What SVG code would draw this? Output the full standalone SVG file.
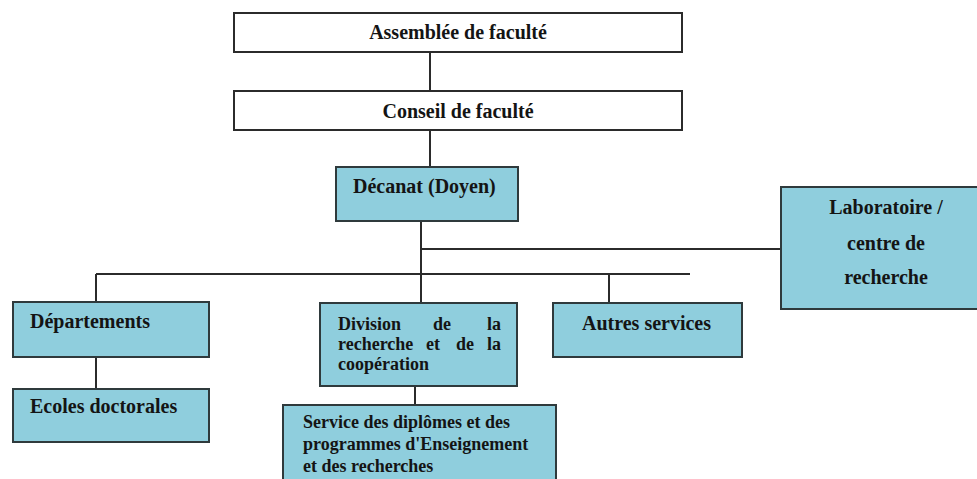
<svg xmlns="http://www.w3.org/2000/svg" width="977" height="479" viewBox="0 0 977 479">
<style>
.w{fill:#ffffff;stroke:#2b2b2b;stroke-width:2}
.b{fill:#8fcedd;stroke:#2f3a3c;stroke-width:2}
.t{font-family:"Liberation Serif","Times New Roman",serif;font-weight:bold;font-size:20px;fill:#141414}
.s{font-size:18px}
.c{stroke:#2b2b2b;stroke-width:2;fill:none}
</style>
<rect width="977" height="479" fill="#ffffff"/>
<g id="connectors">
<line class="c" x1="430" y1="52" x2="430" y2="91"/>
<line class="c" x1="430" y1="130" x2="430" y2="167"/>
<line class="c" x1="421" y1="221" x2="421" y2="303"/>
<line class="c" x1="421" y1="249" x2="781" y2="249"/>
<line class="c" x1="96" y1="274" x2="690" y2="274"/>
<line class="c" x1="96" y1="274" x2="96" y2="302"/>
<line class="c" x1="609" y1="274" x2="609" y2="303"/>
<line class="c" x1="96" y1="357" x2="96" y2="389"/>
<line class="c" x1="415" y1="386" x2="415" y2="405"/>
</g>
<g id="assemblee">
<rect class="w" x="234" y="13" width="448" height="39"/>
<text class="t" x="458" y="39" text-anchor="middle">Assemblée de faculté</text>
</g>
<g id="conseil">
<rect class="w" x="234" y="91" width="448" height="39"/>
<text class="t" x="458" y="118" text-anchor="middle">Conseil de faculté</text>
</g>
<g id="decanat">
<rect class="b" x="336" y="167" width="182" height="54"/>
<text class="t" x="353" y="193">Décanat (Doyen)</text>
</g>
<g id="laboratoire">
<rect class="b" x="781" y="187" width="215" height="122"/>
<text class="t" x="886" y="214" text-anchor="middle">Laboratoire /</text>
<text class="t" x="886" y="250" text-anchor="middle">centre de</text>
<text class="t" x="886" y="284" text-anchor="middle">recherche</text>
</g>
<g id="departements">
<rect class="b" x="13" y="302" width="196" height="55"/>
<text class="t" x="30" y="328">Départements</text>
</g>
<g id="ecoles">
<rect class="b" x="13" y="389" width="196" height="53"/>
<text class="t" x="30" y="413">Ecoles doctorales</text>
</g>
<g id="division">
<rect class="b" x="320" y="303" width="197" height="83"/>
<text class="t s" y="330"><tspan x="338">Division</tspan><tspan x="433">de</tspan><tspan x="487">la</tspan></text>
<text class="t s" y="350"><tspan x="338">recherche</tspan><tspan x="426">et</tspan><tspan x="456">de</tspan><tspan x="487">la</tspan></text>
<text class="t s" x="338" y="370">coopération</text>
</g>
<g id="autres">
<rect class="b" x="553" y="303" width="189" height="54"/>
<text class="t" x="582" y="330">Autres services</text>
</g>
<g id="service">
<rect class="b" x="283" y="405" width="273" height="85"/>
<text class="t s" x="303" y="428">Service des diplômes et des</text>
<text class="t s" x="303" y="450">programmes d'Enseignement</text>
<text class="t s" x="303" y="472">et des recherches</text>
</g>
</svg>
